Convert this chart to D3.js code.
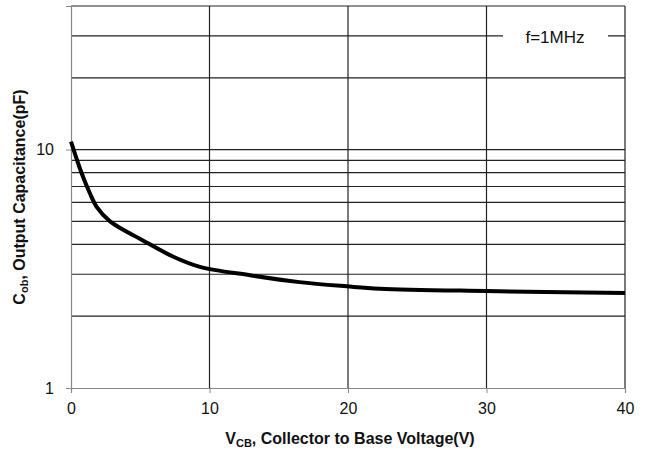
<!DOCTYPE html>
<html>
<head>
<meta charset="utf-8">
<script src="https://cdn.jsdelivr.net/npm/d3@7"></script>
<style>
  body { margin: 0; background: #fff; }
  text { font-family: "Liberation Sans", Arial, sans-serif; fill: #111; }
</style>
</head>
<body>
<svg id="chart" width="651" height="457"></svg>
<script>
// Data
const vcb = [0, 0.77, 1.37, 1.85, 2.82, 5.22, 7.39, 9.31, 12.92, 16.5, 19.9, 22.3, 30, 40];
const cob = [10.8, 7.95, 6.54, 5.75, 5.0, 4.15, 3.55, 3.22, 2.97, 2.78, 2.67, 2.61, 2.55, 2.50];
const xTicks = [0, 10, 20, 30, 40];
const yTickLabels = [1, 10];
const yGrid = [2, 3, 4, 5, 6, 7, 8, 9, 10, 20, 30, 40];
const legendText = "f=1MHz";

const svg = d3.select("#chart");
const m = { left: 71, right: 26, top: 6, bottom: 69 };
const W = 651, H = 457;
const x = d3.scaleLinear().domain([0, 40]).range([m.left, W - m.right]);
const y = d3.scaleLog().domain([1, 40]).range([H - m.bottom, m.top]);

// horizontal grid
svg.append("g").selectAll("line").data(yGrid).join("line")
  .attr("x1", x(0)).attr("x2", x(40))
  .attr("y1", d => y(d)).attr("y2", d => y(d))
  .attr("stroke", "#222").attr("stroke-width", 1.2);

// vertical grid
svg.append("g").selectAll("line").data(xTicks.filter(d => d > 0)).join("line")
  .attr("x1", d => x(d)).attr("x2", d => x(d))
  .attr("y1", y(1)).attr("y2", y(40))
  .attr("stroke", "#222").attr("stroke-width", 1.2);

// axes
const xAxis = d3.axisBottom(x).tickValues(xTicks).tickSize(5).tickPadding(10).tickFormat(d3.format("d"));
const gx = svg.append("g").attr("transform", `translate(0,${y(1)})`).call(xAxis);
gx.select(".domain").attr("stroke", "#888").attr("stroke-width", 1.2);
gx.selectAll(".tick line").attr("stroke", "#888");
gx.selectAll("text").style("font-size", "16px").attr("fill", "#111");

const yAxis = d3.axisLeft(y).tickValues(yTickLabels).tickSize(5).tickPadding(12).tickFormat(d3.format("d"));
const gy = svg.append("g").attr("transform", `translate(${x(0)},0)`).call(yAxis);
gy.select(".domain").attr("stroke", "#888").attr("stroke-width", 1.2);
gy.selectAll(".tick line").attr("stroke", "#888");
gy.selectAll("text").style("font-size", "16px").attr("fill", "#111");

// curve
const line = d3.line().x((d, i) => x(vcb[i])).y(d => y(d)).curve(d3.curveCatmullRom.alpha(0.5));
svg.append("path").datum(cob).attr("d", line)
  .attr("fill", "none").attr("stroke", "#000").attr("stroke-width", 4)
  .attr("stroke-linejoin", "round").attr("stroke-linecap", "butt");

// legend
const lg = svg.append("g");
lg.append("rect").attr("x", 503).attr("y", 26).attr("width", 105).attr("height", 20).attr("fill", "#fff");
lg.append("text").attr("x", 555).attr("y", 43).attr("text-anchor", "middle")
  .style("font-size", "17px").text(legendText);

// x title
const xt = svg.append("text").attr("x", 350).attr("y", 444).attr("text-anchor", "middle")
  .style("font-size", "16px").style("font-weight", "bold");
xt.append("tspan").text("V");
xt.append("tspan").attr("dy", 3).style("font-size", "11px").text("CB");
xt.append("tspan").attr("dy", -3).text(", Collector to Base Voltage(V)");

// y title
const yt = svg.append("text").attr("transform", `translate(25,${(y(1) + y(40)) / 2}) rotate(-90)`)
  .attr("text-anchor", "middle").style("font-size", "16px").style("font-weight", "bold");
yt.append("tspan").text("C");
yt.append("tspan").attr("dy", 3).style("font-size", "11px").text("ob");
yt.append("tspan").attr("dy", -3).text(", Output Capacitance(pF)");
</script>
</body>
</html>
